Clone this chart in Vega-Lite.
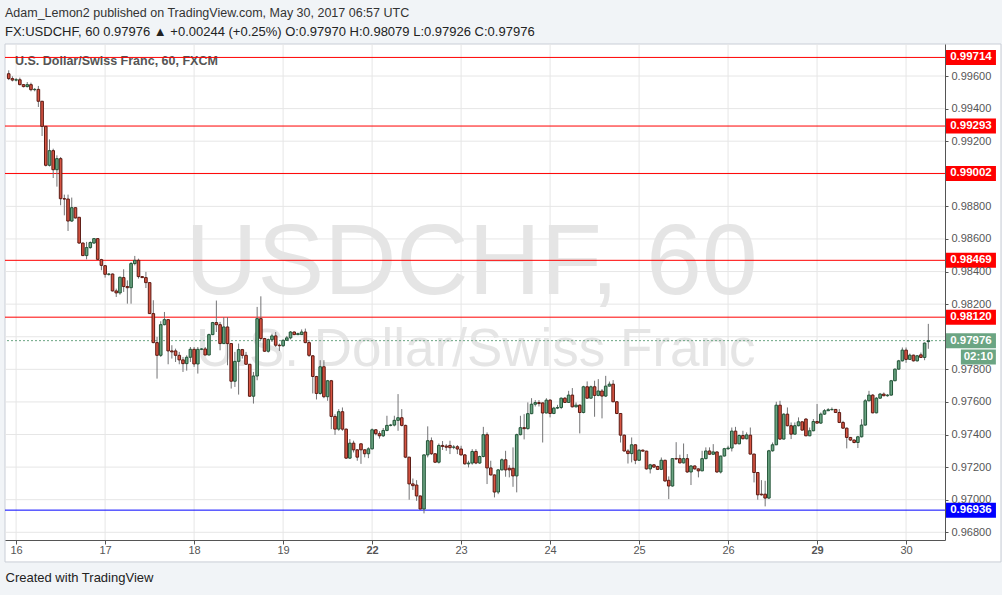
{
  "$schema": "https://vega.github.io/schema/vega-lite/v6.json",
  "width": 940,
  "height": 496,
  "autosize": {"type": "none"},
  "padding": {"left": 5, "top": 44, "right": 57, "bottom": 55},
  "background": "#f1f4f7",
  "config": {"view": {"stroke": null}, "font": "Liberation Sans"},
  "title": {
    "text": "Adam_Lemon2 published on TradingView.com, May 30, 2017 06:57 UTC",
    "subtitle": "FX:USDCHF, 60  0.97976 ▲ +0.00244 (+0.25%)  O:0.97970  H:0.98079  L:0.97926  C:0.97976",
    "anchor": "start",
    "orient": "top",
    "frame": "group",
    "offset": 5,
    "font": "Liberation Sans",
    "fontSize": 12.5,
    "fontWeight": "normal",
    "color": "#333333",
    "subtitleFont": "Liberation Sans",
    "subtitleFontSize": 13,
    "subtitleFontWeight": "normal",
    "subtitleColor": "#222222",
    "subtitlePadding": 6
  },
  "datasets": {
    "candles": [
      {"t":-2,"o":0.99614,"h":0.99635,"l":0.99575,"c":0.99584},
      {"t":-1,"o":0.99584,"h":0.99598,"l":0.99567,"c":0.99575},
      {"t":0,"o":0.99575,"h":0.99588,"l":0.99567,"c":0.99577},
      {"t":1,"o":0.99577,"h":0.9959,"l":0.99543,"c":0.99547},
      {"t":2,"o":0.99547,"h":0.99551,"l":0.9953,"c":0.99535},
      {"t":3,"o":0.99535,"h":0.99563,"l":0.9953,"c":0.99547},
      {"t":4,"o":0.99547,"h":0.99559,"l":0.99506,"c":0.99516},
      {"t":5,"o":0.99516,"h":0.99526,"l":0.99506,"c":0.99518},
      {"t":6,"o":0.99518,"h":0.99539,"l":0.9941,"c":0.99445},
      {"t":7,"o":0.99445,"h":0.99447,"l":0.99232,"c":0.99291},
      {"t":8,"o":0.99291,"h":0.99293,"l":0.99045,"c":0.99052},
      {"t":9,"o":0.99052,"h":0.99211,"l":0.99045,"c":0.99142},
      {"t":10,"o":0.99142,"h":0.99154,"l":0.98974,"c":0.99025},
      {"t":11,"o":0.99025,"h":0.99113,"l":0.98921,"c":0.99093},
      {"t":12,"o":0.99093,"h":0.99103,"l":0.98807,"c":0.98847},
      {"t":13,"o":0.98847,"h":0.98872,"l":0.98745,"c":0.98845},
      {"t":14,"o":0.98845,"h":0.98872,"l":0.98649,"c":0.9871},
      {"t":15,"o":0.9871,"h":0.98854,"l":0.98705,"c":0.98792},
      {"t":16,"o":0.98792,"h":0.98795,"l":0.98725,"c":0.98729},
      {"t":17,"o":0.98733,"h":0.98735,"l":0.9857,"c":0.98575},
      {"t":18,"o":0.98575,"h":0.98578,"l":0.98495,"c":0.98498},
      {"t":19,"o":0.98498,"h":0.98582,"l":0.98475,"c":0.98547},
      {"t":20,"o":0.98547,"h":0.98585,"l":0.9854,"c":0.98578},
      {"t":21,"o":0.98575,"h":0.98605,"l":0.9857,"c":0.98602},
      {"t":22,"o":0.98602,"h":0.98605,"l":0.98473,"c":0.98475},
      {"t":23,"o":0.98473,"h":0.98478,"l":0.98408,"c":0.98438},
      {"t":24,"o":0.98436,"h":0.9844,"l":0.98363,"c":0.98383},
      {"t":25,"o":0.98383,"h":0.9839,"l":0.98375,"c":0.98385},
      {"t":26,"o":0.98385,"h":0.98388,"l":0.98278,"c":0.98281},
      {"t":27,"o":0.98281,"h":0.98295,"l":0.98244,"c":0.98269},
      {"t":28,"o":0.98269,"h":0.98369,"l":0.98258,"c":0.98365},
      {"t":29,"o":0.98363,"h":0.98414,"l":0.98275,"c":0.98308},
      {"t":30,"o":0.98308,"h":0.98346,"l":0.98203,"c":0.98301},
      {"t":31,"o":0.98301,"h":0.98459,"l":0.98203,"c":0.98449},
      {"t":32,"o":0.98449,"h":0.98496,"l":0.98438,"c":0.98469},
      {"t":33,"o":0.98469,"h":0.98479,"l":0.98357,"c":0.98369},
      {"t":34,"o":0.98369,"h":0.98372,"l":0.9836,"c":0.98363},
      {"t":35,"o":0.98363,"h":0.98398,"l":0.98299,"c":0.98332},
      {"t":36,"o":0.98332,"h":0.98335,"l":0.9814,"c":0.98142},
      {"t":37,"o":0.98142,"h":0.98224,"l":0.9796,"c":0.97964},
      {"t":38,"o":0.97964,"h":0.97999,"l":0.97743,"c":0.97886},
      {"t":39,"o":0.97886,"h":0.98095,"l":0.97876,"c":0.98074},
      {"t":40,"o":0.98074,"h":0.98152,"l":0.9807,"c":0.98105},
      {"t":41,"o":0.98105,"h":0.98108,"l":0.97831,"c":0.97913},
      {"t":42,"o":0.97913,"h":0.97948,"l":0.97866,"c":0.97907},
      {"t":43,"o":0.97913,"h":0.97927,"l":0.97845,"c":0.97886},
      {"t":44,"o":0.97886,"h":0.97907,"l":0.97831,"c":0.97858},
      {"t":45,"o":0.97858,"h":0.97876,"l":0.97784,"c":0.97835},
      {"t":46,"o":0.97835,"h":0.97886,"l":0.97792,"c":0.97874},
      {"t":47,"o":0.97874,"h":0.97937,"l":0.97845,"c":0.97923},
      {"t":48,"o":0.97923,"h":0.97937,"l":0.97815,"c":0.97833},
      {"t":49,"o":0.97833,"h":0.97937,"l":0.97774,"c":0.97923},
      {"t":50,"o":0.97923,"h":0.9793,"l":0.97918,"c":0.97925},
      {"t":51,"o":0.97925,"h":0.97937,"l":0.97886,"c":0.97888},
      {"t":52,"o":0.97888,"h":0.98019,"l":0.97886,"c":0.98013},
      {"t":53,"o":0.98013,"h":0.98091,"l":0.9801,"c":0.98087},
      {"t":54,"o":0.98087,"h":0.98222,"l":0.98029,"c":0.98074},
      {"t":55,"o":0.98074,"h":0.98091,"l":0.97917,"c":0.97958},
      {"t":56,"o":0.97958,"h":0.98121,"l":0.97955,"c":0.9806},
      {"t":57,"o":0.9806,"h":0.98121,"l":0.97825,"c":0.97958},
      {"t":58,"o":0.97958,"h":0.9796,"l":0.97682,"c":0.97727},
      {"t":59,"o":0.97727,"h":0.97907,"l":0.97692,"c":0.97849},
      {"t":60,"o":0.97849,"h":0.97958,"l":0.97645,"c":0.97921},
      {"t":61,"o":0.97921,"h":0.97925,"l":0.97866,"c":0.97886},
      {"t":62,"o":0.97886,"h":0.97907,"l":0.97828,"c":0.97831},
      {"t":63,"o":0.97831,"h":0.97833,"l":0.97631,"c":0.97635},
      {"t":64,"o":0.97635,"h":0.97784,"l":0.9759,"c":0.97759},
      {"t":65,"o":0.97759,"h":0.98183,"l":0.97733,"c":0.98111},
      {"t":66,"o":0.98111,"h":0.98248,"l":0.97978,"c":0.97989},
      {"t":67,"o":0.97989,"h":0.97993,"l":0.97907,"c":0.97911},
      {"t":68,"o":0.97911,"h":0.97989,"l":0.97903,"c":0.97982},
      {"t":69,"o":0.97982,"h":0.98019,"l":0.97968,"c":0.98005},
      {"t":70,"o":0.98005,"h":0.98029,"l":0.97937,"c":0.97948},
      {"t":71,"o":0.97948,"h":0.97958,"l":0.97913,"c":0.97945},
      {"t":72,"o":0.97945,"h":0.97984,"l":0.97937,"c":0.97978},
      {"t":73,"o":0.97978,"h":0.98005,"l":0.97975,"c":0.97993},
      {"t":74,"o":0.97993,"h":0.98035,"l":0.97984,"c":0.98029},
      {"t":75,"o":0.98029,"h":0.98033,"l":0.9801,"c":0.98013},
      {"t":76,"o":0.98013,"h":0.98025,"l":0.9801,"c":0.98019},
      {"t":77,"o":0.98013,"h":0.98045,"l":0.98011,"c":0.98029},
      {"t":78,"o":0.98029,"h":0.9805,"l":0.9796,"c":0.97964},
      {"t":79,"o":0.97964,"h":0.97978,"l":0.97876,"c":0.97886},
      {"t":80,"o":0.97883,"h":0.97887,"l":0.97652,"c":0.97756},
      {"t":81,"o":0.97756,"h":0.9776,"l":0.97615,"c":0.97652},
      {"t":82,"o":0.97652,"h":0.97856,"l":0.97645,"c":0.97816},
      {"t":83,"o":0.97816,"h":0.97856,"l":0.97623,"c":0.97632},
      {"t":84,"o":0.97632,"h":0.97735,"l":0.97607,"c":0.9773},
      {"t":85,"o":0.9773,"h":0.97735,"l":0.97433,"c":0.97511},
      {"t":86,"o":0.97511,"h":0.97525,"l":0.97398,"c":0.97433},
      {"t":87,"o":0.97433,"h":0.97556,"l":0.97423,"c":0.9754},
      {"t":88,"o":0.9754,"h":0.97566,"l":0.97423,"c":0.97433},
      {"t":89,"o":0.97433,"h":0.97437,"l":0.9725,"c":0.97255},
      {"t":90,"o":0.97255,"h":0.97372,"l":0.9725,"c":0.97347},
      {"t":91,"o":0.97347,"h":0.97362,"l":0.9729,"c":0.97306},
      {"t":92,"o":0.97306,"h":0.9731,"l":0.97239,"c":0.97261},
      {"t":93,"o":0.97343,"h":0.97345,"l":0.9722,"c":0.97306},
      {"t":94,"o":0.97306,"h":0.9731,"l":0.9726,"c":0.97282},
      {"t":95,"o":0.97282,"h":0.97322,"l":0.97255,"c":0.97312},
      {"t":96,"o":0.97312,"h":0.97437,"l":0.97308,"c":0.97429},
      {"t":97,"o":0.97429,"h":0.97433,"l":0.97395,"c":0.97405},
      {"t":98,"o":0.97405,"h":0.9742,"l":0.97375,"c":0.97392},
      {"t":99,"o":0.97392,"h":0.9744,"l":0.97385,"c":0.97425},
      {"t":100,"o":0.97425,"h":0.97515,"l":0.9742,"c":0.97456},
      {"t":101,"o":0.97456,"h":0.97465,"l":0.9745,"c":0.97458},
      {"t":102,"o":0.97458,"h":0.97515,"l":0.9745,"c":0.97487},
      {"t":103,"o":0.97487,"h":0.97648,"l":0.97423,"c":0.97503},
      {"t":104,"o":0.97503,"h":0.97556,"l":0.9745,"c":0.97456},
      {"t":105,"o":0.97456,"h":0.9746,"l":0.97255,"c":0.97261},
      {"t":106,"o":0.97261,"h":0.97263,"l":0.97,"c":0.97097},
      {"t":107,"o":0.97097,"h":0.9713,"l":0.9706,"c":0.97086},
      {"t":108,"o":0.9709,"h":0.9712,"l":0.96993,"c":0.97023},
      {"t":109,"o":0.97023,"h":0.97025,"l":0.9694,"c":0.96943},
      {"t":110,"o":0.96943,"h":0.97277,"l":0.96916,"c":0.97275},
      {"t":111,"o":0.97275,"h":0.9745,"l":0.9726,"c":0.97362},
      {"t":112,"o":0.97362,"h":0.97382,"l":0.97275,"c":0.97282},
      {"t":113,"o":0.97282,"h":0.97285,"l":0.97225,"c":0.9723},
      {"t":114,"o":0.9723,"h":0.97345,"l":0.97222,"c":0.97333},
      {"t":115,"o":0.97333,"h":0.9736,"l":0.97305,"c":0.97327},
      {"t":116,"o":0.97329,"h":0.97341,"l":0.973,"c":0.97322},
      {"t":117,"o":0.97333,"h":0.97362,"l":0.9728,"c":0.97319},
      {"t":118,"o":0.97322,"h":0.97335,"l":0.9731,"c":0.97323},
      {"t":119,"o":0.97325,"h":0.97335,"l":0.9728,"c":0.97311},
      {"t":120,"o":0.97311,"h":0.97331,"l":0.9727,"c":0.97275},
      {"t":121,"o":0.97275,"h":0.9728,"l":0.97215,"c":0.9722},
      {"t":122,"o":0.9722,"h":0.97239,"l":0.97198,"c":0.97225},
      {"t":123,"o":0.97225,"h":0.9731,"l":0.97215,"c":0.97296},
      {"t":124,"o":0.97296,"h":0.9731,"l":0.97218,"c":0.97225},
      {"t":125,"o":0.97225,"h":0.9727,"l":0.9722,"c":0.97265},
      {"t":126,"o":0.97265,"h":0.97447,"l":0.9726,"c":0.97399},
      {"t":127,"o":0.97399,"h":0.97413,"l":0.97096,"c":0.97195},
      {"t":128,"o":0.97195,"h":0.97239,"l":0.97148,"c":0.97152},
      {"t":129,"o":0.97152,"h":0.97155,"l":0.97014,"c":0.97047},
      {"t":130,"o":0.97047,"h":0.97188,"l":0.97034,"c":0.97183},
      {"t":131,"o":0.97183,"h":0.97253,"l":0.9718,"c":0.97245},
      {"t":132,"o":0.97245,"h":0.973,"l":0.97141,"c":0.97183},
      {"t":133,"o":0.97193,"h":0.97212,"l":0.97137,"c":0.97183},
      {"t":134,"o":0.97193,"h":0.97321,"l":0.97079,"c":0.97146},
      {"t":135,"o":0.97146,"h":0.97405,"l":0.97045,"c":0.97399},
      {"t":136,"o":0.97399,"h":0.97515,"l":0.97395,"c":0.97442},
      {"t":137,"o":0.97442,"h":0.97525,"l":0.9737,"c":0.97436},
      {"t":138,"o":0.97436,"h":0.97597,"l":0.9743,"c":0.97528},
      {"t":139,"o":0.97528,"h":0.97623,"l":0.97525,"c":0.97586},
      {"t":140,"o":0.97586,"h":0.97611,"l":0.97572,"c":0.97596},
      {"t":141,"o":0.97596,"h":0.97611,"l":0.97572,"c":0.9759},
      {"t":142,"o":0.97594,"h":0.97597,"l":0.97351,"c":0.97532},
      {"t":143,"o":0.97532,"h":0.97623,"l":0.9753,"c":0.97611},
      {"t":144,"o":0.97611,"h":0.97617,"l":0.97505,"c":0.97529},
      {"t":145,"o":0.97529,"h":0.9757,"l":0.97525,"c":0.97562},
      {"t":146,"o":0.97562,"h":0.97582,"l":0.97556,"c":0.97566},
      {"t":147,"o":0.97566,"h":0.97627,"l":0.97556,"c":0.97623},
      {"t":148,"o":0.97623,"h":0.9763,"l":0.97594,"c":0.97597},
      {"t":149,"o":0.97597,"h":0.97668,"l":0.97594,"c":0.97642},
      {"t":150,"o":0.97642,"h":0.97685,"l":0.97566,"c":0.9757},
      {"t":151,"o":0.9757,"h":0.97597,"l":0.97566,"c":0.9758},
      {"t":152,"o":0.9758,"h":0.97585,"l":0.97407,"c":0.97535},
      {"t":153,"o":0.97535,"h":0.97699,"l":0.9753,"c":0.97693},
      {"t":154,"o":0.97693,"h":0.97726,"l":0.9762,"c":0.97623},
      {"t":155,"o":0.97623,"h":0.977,"l":0.9762,"c":0.97693},
      {"t":156,"o":0.97693,"h":0.9773,"l":0.97509,"c":0.9764},
      {"t":157,"o":0.9764,"h":0.9774,"l":0.97635,"c":0.97667},
      {"t":158,"o":0.97667,"h":0.97679,"l":0.97499,"c":0.97636},
      {"t":159,"o":0.97636,"h":0.9776,"l":0.9763,"c":0.97697},
      {"t":160,"o":0.97697,"h":0.97725,"l":0.97695,"c":0.97709},
      {"t":161,"o":0.97709,"h":0.97734,"l":0.97598,"c":0.97601},
      {"t":162,"o":0.97601,"h":0.97605,"l":0.97525,"c":0.97529},
      {"t":163,"o":0.97529,"h":0.9753,"l":0.97351,"c":0.97396},
      {"t":164,"o":0.97396,"h":0.974,"l":0.97295,"c":0.97299},
      {"t":165,"o":0.97299,"h":0.9731,"l":0.97222,"c":0.97283},
      {"t":166,"o":0.97283,"h":0.97382,"l":0.97229,"c":0.97337},
      {"t":167,"o":0.97337,"h":0.9734,"l":0.97218,"c":0.97242},
      {"t":168,"o":0.97242,"h":0.9731,"l":0.97238,"c":0.97304},
      {"t":169,"o":0.97304,"h":0.97308,"l":0.97295,"c":0.97298},
      {"t":170,"o":0.97298,"h":0.973,"l":0.97185,"c":0.97189},
      {"t":171,"o":0.97189,"h":0.9722,"l":0.97161,"c":0.97214},
      {"t":172,"o":0.97214,"h":0.97218,"l":0.97195,"c":0.972},
      {"t":173,"o":0.97204,"h":0.97208,"l":0.97182,"c":0.97186},
      {"t":174,"o":0.97186,"h":0.97259,"l":0.97182,"c":0.97242},
      {"t":175,"o":0.97242,"h":0.97245,"l":0.9711,"c":0.97115},
      {"t":176,"o":0.97119,"h":0.97143,"l":0.97004,"c":0.97084},
      {"t":177,"o":0.97084,"h":0.97255,"l":0.9708,"c":0.97252},
      {"t":178,"o":0.97252,"h":0.97353,"l":0.97245,"c":0.9725},
      {"t":179,"o":0.97252,"h":0.97276,"l":0.97222,"c":0.97226},
      {"t":180,"o":0.97226,"h":0.97345,"l":0.97222,"c":0.97252},
      {"t":181,"o":0.97252,"h":0.9728,"l":0.97165,"c":0.9717},
      {"t":182,"o":0.9717,"h":0.97212,"l":0.9709,"c":0.97207},
      {"t":183,"o":0.97207,"h":0.9721,"l":0.97185,"c":0.97189},
      {"t":184,"o":0.97189,"h":0.97192,"l":0.97137,"c":0.97177},
      {"t":185,"o":0.97177,"h":0.973,"l":0.97175,"c":0.97252},
      {"t":186,"o":0.97252,"h":0.97321,"l":0.97248,"c":0.97299},
      {"t":187,"o":0.97299,"h":0.97321,"l":0.97275,"c":0.97279},
      {"t":188,"o":0.97279,"h":0.97341,"l":0.97275,"c":0.97293},
      {"t":189,"o":0.97293,"h":0.97296,"l":0.97165,"c":0.9717},
      {"t":190,"o":0.9717,"h":0.9727,"l":0.97161,"c":0.97268},
      {"t":191,"o":0.97268,"h":0.97318,"l":0.97265,"c":0.97313},
      {"t":192,"o":0.97313,"h":0.97331,"l":0.97305,"c":0.97317},
      {"t":193,"o":0.97317,"h":0.97443,"l":0.97296,"c":0.97421},
      {"t":194,"o":0.97421,"h":0.97447,"l":0.9734,"c":0.97343},
      {"t":195,"o":0.97343,"h":0.974,"l":0.9734,"c":0.97394},
      {"t":196,"o":0.97394,"h":0.97423,"l":0.9737,"c":0.97374},
      {"t":197,"o":0.97374,"h":0.97413,"l":0.9737,"c":0.97398},
      {"t":198,"o":0.97396,"h":0.97443,"l":0.97278,"c":0.9728},
      {"t":199,"o":0.9728,"h":0.97282,"l":0.97106,"c":0.97167},
      {"t":200,"o":0.97167,"h":0.9717,"l":0.97,"c":0.9703},
      {"t":201,"o":0.97034,"h":0.9712,"l":0.97025,"c":0.9703},
      {"t":202,"o":0.97034,"h":0.97116,"l":0.96959,"c":0.9701},
      {"t":203,"o":0.9701,"h":0.97306,"l":0.97004,"c":0.973},
      {"t":204,"o":0.973,"h":0.97351,"l":0.97295,"c":0.97337},
      {"t":205,"o":0.97337,"h":0.97601,"l":0.97335,"c":0.9758},
      {"t":206,"o":0.9758,"h":0.97607,"l":0.97368,"c":0.97372},
      {"t":207,"o":0.97372,"h":0.9753,"l":0.9737,"c":0.97525},
      {"t":208,"o":0.97525,"h":0.97566,"l":0.9745,"c":0.97454},
      {"t":209,"o":0.97454,"h":0.97474,"l":0.97372,"c":0.97402},
      {"t":210,"o":0.97402,"h":0.97474,"l":0.974,"c":0.97454},
      {"t":211,"o":0.97454,"h":0.97505,"l":0.9745,"c":0.97478},
      {"t":212,"o":0.97478,"h":0.9748,"l":0.97425,"c":0.97427},
      {"t":213,"o":0.97495,"h":0.975,"l":0.9739,"c":0.97392},
      {"t":214,"o":0.97392,"h":0.97443,"l":0.9739,"c":0.97423},
      {"t":215,"o":0.97423,"h":0.97495,"l":0.9742,"c":0.9748},
      {"t":216,"o":0.9748,"h":0.97587,"l":0.97465,"c":0.9747},
      {"t":217,"o":0.9747,"h":0.97535,"l":0.97465,"c":0.97525},
      {"t":218,"o":0.97525,"h":0.97556,"l":0.9752,"c":0.97546},
      {"t":219,"o":0.97546,"h":0.97562,"l":0.97544,"c":0.97552},
      {"t":220,"o":0.97552,"h":0.97566,"l":0.97548,"c":0.97554},
      {"t":221,"o":0.97554,"h":0.97556,"l":0.97532,"c":0.97535},
      {"t":222,"o":0.97535,"h":0.97556,"l":0.9747,"c":0.97474},
      {"t":223,"o":0.97474,"h":0.97484,"l":0.97435,"c":0.97439},
      {"t":224,"o":0.97439,"h":0.97443,"l":0.97315,"c":0.97382},
      {"t":225,"o":0.97382,"h":0.97385,"l":0.9736,"c":0.97366},
      {"t":226,"o":0.97366,"h":0.9737,"l":0.97346,"c":0.97351},
      {"t":227,"o":0.97351,"h":0.97392,"l":0.97317,"c":0.97386},
      {"t":228,"o":0.97386,"h":0.97494,"l":0.97382,"c":0.97458},
      {"t":229,"o":0.97458,"h":0.97617,"l":0.97454,"c":0.97607},
      {"t":230,"o":0.97607,"h":0.97668,"l":0.97603,"c":0.97642},
      {"t":231,"o":0.97642,"h":0.97648,"l":0.9753,"c":0.97533},
      {"t":232,"o":0.97533,"h":0.9763,"l":0.9753,"c":0.97623},
      {"t":233,"o":0.97623,"h":0.97655,"l":0.9762,"c":0.97648},
      {"t":234,"o":0.97648,"h":0.97658,"l":0.97635,"c":0.97638},
      {"t":235,"o":0.97638,"h":0.97648,"l":0.97632,"c":0.97642},
      {"t":236,"o":0.97642,"h":0.97735,"l":0.97638,"c":0.9773},
      {"t":237,"o":0.9773,"h":0.97805,"l":0.97727,"c":0.97801},
      {"t":238,"o":0.97801,"h":0.97858,"l":0.97798,"c":0.97852},
      {"t":239,"o":0.97852,"h":0.97934,"l":0.97848,"c":0.97918},
      {"t":240,"o":0.97918,"h":0.97934,"l":0.9784,"c":0.97861},
      {"t":241,"o":0.97861,"h":0.97897,"l":0.97858,"c":0.97887},
      {"t":242,"o":0.97887,"h":0.9789,"l":0.97848,"c":0.97852},
      {"t":243,"o":0.97852,"h":0.97888,"l":0.97848,"c":0.97883},
      {"t":244,"o":0.97889,"h":0.97903,"l":0.9787,"c":0.97873},
      {"t":245,"o":0.97873,"h":0.97965,"l":0.97856,"c":0.97961},
      {"t":246,"o":0.9797,"h":0.98079,"l":0.97926,"c":0.97976}
    ],
    "gridY": [
      {"p":0.968},{"p":0.970},{"p":0.972},{"p":0.974},{"p":0.976},{"p":0.978},{"p":0.980},{"p":0.982},
      {"p":0.984},{"p":0.986},{"p":0.988},{"p":0.990},{"p":0.992},{"p":0.994},{"p":0.996}
    ],
    "gridX": [
      {"t":0},{"t":24},{"t":48},{"t":72},{"t":96},{"t":120},{"t":144},{"t":168},{"t":192},{"t":216},{"t":240}
    ],
    "levels": [
      {"p":0.99714},{"p":0.99293},{"p":0.99002},{"p":0.98469},{"p":0.9812},{"p":0.96936}
    ],
    "boxes": [
      {"p":0.99714},{"p":0.99293},{"p":0.99002},{"p":0.98469},{"p":0.9812},{"p":0.97976},{"p":0.96936}
    ]
  },
  "layer": [
    {
      "data": {"values": [{}]},
      "mark": {"type": "rect", "fill": "#ffffff", "stroke": "#c9ced6", "strokeWidth": 1},
      "encoding": {
        "x": {"datum": -3, "type": "quantitative", "scale": {"domain": [-3, 250.5], "nice": false, "zero": false, "padding": 0}},
        "x2": {"datum": 265.6},
        "y": {"datum": 0.96618, "type": "quantitative", "scale": {"domain": [0.967527, 0.997964], "nice": false, "zero": false, "padding": 0}},
        "y2": {"datum": 0.997964}
      }
    },
    {
      "data": {"name": "gridY"},
      "mark": {"type": "rule", "color": "#e6e6e6", "strokeWidth": 1},
      "encoding": {
        "y": {"field": "p", "type": "quantitative",
          "scale": {"domain": [0.967527, 0.997964], "nice": false, "zero": false, "padding": 0},
          "axis": {
            "orient": "right",
            "values": [0.968, 0.970, 0.972, 0.974, 0.976, 0.978, 0.982, 0.984, 0.986, 0.988, 0.992, 0.994, 0.996],
            "format": ".5f", "grid": false, "domainColor": "#555555", "tickColor": "#555555", "tickSize": 3,
            "labelColor": "#555555", "labelFontSize": 11, "labelPadding": 3, "labelFont": "Liberation Sans",
            "labelOverlap": false, "labelBound": false,
            "title": null, "zindex": 1
          }}
      }
    },
    {
      "data": {"name": "gridX"},
      "mark": {"type": "rule", "color": "#e6e6e6", "strokeWidth": 1},
      "encoding": {
        "x": {"field": "t", "type": "quantitative",
          "scale": {"domain": [-3, 250.5], "nice": false, "zero": false, "padding": 0},
          "axis": {
            "values": [0, 24, 48, 72, 96, 120, 144, 168, 192, 216, 240],
            "labelExpr": "['16','17','18','19','22','23','24','25','26','29','30'][round(datum.value/24)]",
            "grid": false, "domainColor": "#555555", "tickColor": "#555555", "tickSize": 4,
            "labelColor": "#555555", "labelFontSize": 11, "labelPadding": 0, "labelFlush": false, "labelFont": "Liberation Sans",
            "labelOverlap": false,
            "labelFontWeight": {"condition": {"test": "datum.value == 96 || datum.value == 216", "value": "bold"}, "value": "normal"},
            "title": "Created with TradingView", "titleAnchor": "start", "titleFontWeight": "normal",
            "titleFont": "Liberation Sans", "titleFontSize": 13, "titleColor": "#222222", "titlePadding": 16, "zindex": 1
          }}
      }
    },
    {
      "data": {"values": [{}]},
      "mark": {"type": "text", "text": "USDCHF, 60", "fontSize": 100, "color": "#e5e5e5", "align": "left", "baseline": "alphabetic", "font": "Liberation Sans"},
      "encoding": {
        "x": {"datum": 45.6, "type": "quantitative"},
        "y": {"datum": 0.98262, "type": "quantitative"}
      }
    },
    {
      "data": {"values": [{}]},
      "mark": {"type": "text", "text": "U.S. Dollar/Swiss Franc", "fontSize": 53, "color": "#e5e5e5", "align": "left", "baseline": "alphabetic", "font": "Liberation Sans"},
      "encoding": {
        "x": {"datum": 48.5, "type": "quantitative"},
        "y": {"datum": 0.97823, "type": "quantitative"}
      }
    },
    {
      "data": {"values": [{}]},
      "mark": {"type": "text", "text": "U.S. Dollar/Swiss Franc, 60, FXCM", "fontSize": 12.5, "fontWeight": "bold", "color": "#555555", "align": "left", "baseline": "middle"},
      "encoding": {
        "x": {"datum": -0.3, "type": "quantitative"},
        "y": {"datum": 0.99692, "type": "quantitative"}
      }
    },
    {
      "data": {"name": "levels"},
      "mark": {"type": "rule", "strokeWidth": 1},
      "encoding": {
        "y": {"field": "p", "type": "quantitative"},
        "color": {"condition": {"test": "datum.p < 0.97", "value": "#0000ff"}, "value": "#ff0000"}
      }
    },
    {
      "data": {"values": [{"p": 0.97976}]},
      "mark": {"type": "rule", "strokeWidth": 1, "strokeDash": [2, 2], "color": "#6ba583"},
      "encoding": {"y": {"field": "p", "type": "quantitative"}}
    },
    {
      "data": {"name": "candles"},
      "mark": {"type": "rule", "color": "#737375", "strokeWidth": 1},
      "encoding": {
        "x": {"field": "t", "type": "quantitative", "scale": {"domain": [-3, 250.5], "nice": false, "zero": false, "padding": 0}},
        "y": {"field": "l", "type": "quantitative", "scale": {"domain": [0.967527, 0.997964], "nice": false, "zero": false, "padding": 0}},
        "y2": {"field": "h"}
      }
    },
    {
      "data": {"name": "candles"},
      "mark": {"type": "bar", "size": 2.6, "strokeWidth": 1, "opacity": 1},
      "encoding": {
        "x": {"field": "t", "type": "quantitative", "scale": {"domain": [-3, 250.5], "nice": false, "zero": false, "padding": 0}},
        "y": {"field": "o", "type": "quantitative", "scale": {"domain": [0.967527, 0.997964], "nice": false, "zero": false, "padding": 0}},
        "y2": {"field": "c"},
        "fill": {"condition": {"test": "datum.c >= datum.o", "value": "#6ba583"}, "value": "#d75442"},
        "stroke": {"condition": {"test": "datum.c >= datum.o", "value": "#225437"}, "value": "#5b1a13"}
      }
    },
    {
      "data": {"name": "boxes"},
      "mark": {"type": "tick", "orient": "horizontal", "size": 50, "thickness": 15, "opacity": 1},
      "encoding": {
        "x": {"datum": 257.5, "type": "quantitative"},
        "y": {"field": "p", "type": "quantitative"},
        "color": {"condition": [
          {"test": "datum.p < 0.97", "value": "#0000ff"},
          {"test": "datum.p > 0.9797 && datum.p < 0.9798", "value": "#6ba583"}
        ], "value": "#ff0000"}
      }
    },
    {
      "data": {"name": "boxes"},
      "mark": {"type": "text", "color": "#ffffff", "fontWeight": "bold", "fontSize": 11.5, "align": "center", "baseline": "middle"},
      "encoding": {
        "x": {"datum": 257.5, "type": "quantitative"},
        "y": {"field": "p", "type": "quantitative"},
        "text": {"field": "p", "type": "quantitative", "format": ".5f"}
      }
    },
    {
      "data": {"values": [{"label": "02:10", "p": 0.97876}]},
      "mark": {"type": "tick", "orient": "horizontal", "size": 35, "thickness": 15, "opacity": 1, "color": "#6ba583"},
      "encoding": {
        "x": {"datum": 259.5, "type": "quantitative"},
        "y": {"field": "p", "type": "quantitative"}
      }
    },
    {
      "data": {"values": [{"label": "02:10", "p": 0.97876}]},
      "mark": {"type": "text", "color": "#ffffff", "fontWeight": "bold", "fontSize": 11.5, "align": "center", "baseline": "middle"},
      "encoding": {
        "x": {"datum": 259.5, "type": "quantitative"},
        "y": {"field": "p", "type": "quantitative"},
        "text": {"field": "label", "type": "nominal"}
      }
    }
  ]
}
